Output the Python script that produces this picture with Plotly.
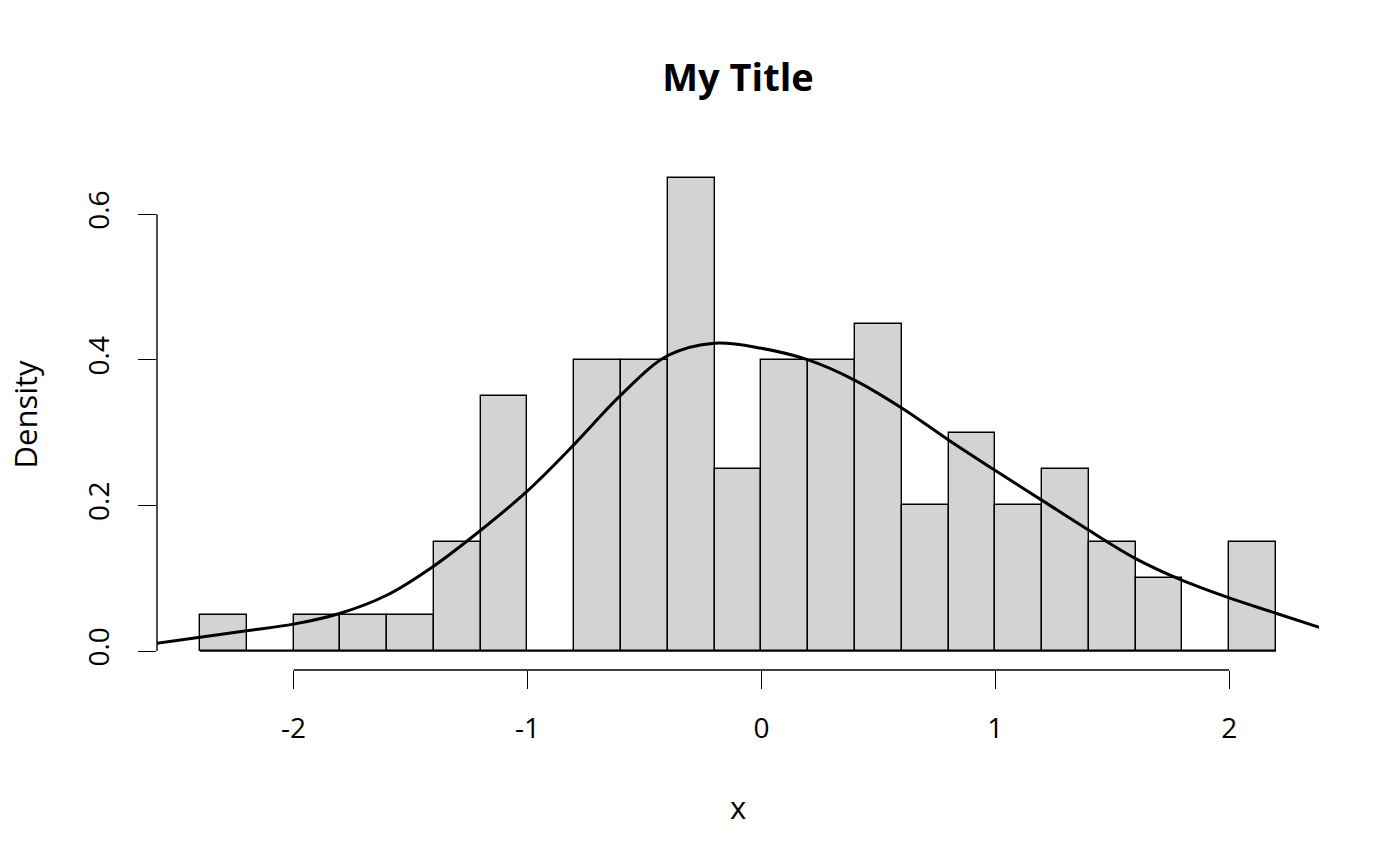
import plotly.graph_objects as go

# histogram: breaks every 0.2 from -2.4 to 2.2, density heights
bin_left = [-2.4, -2.2, -2.0, -1.8, -1.6, -1.4, -1.2, -1.0, -0.8, -0.6, -0.4, -0.2,
            0.0, 0.2, 0.4, 0.6, 0.8, 1.0, 1.2, 1.4, 1.6, 1.8, 2.0]
bin_density = [0.05, 0.0, 0.05, 0.05, 0.05, 0.15, 0.35, 0.0, 0.40, 0.40, 0.65, 0.25,
               0.40, 0.40, 0.45, 0.20, 0.30, 0.20, 0.25, 0.15, 0.10, 0.0, 0.15]
bin_width = 0.2

# kernel density curve
dens_x = [-2.6, -2.4, -2.2, -2.0, -1.8, -1.6, -1.4, -1.2, -1.0, -0.8, -0.6, -0.4,
          -0.2, 0.0, 0.2, 0.4, 0.6, 0.8, 1.0, 1.2, 1.4, 1.6, 1.8, 2.0, 2.2, 2.4]
dens_y = [0.010, 0.019, 0.028, 0.037, 0.052, 0.077, 0.117, 0.166, 0.220, 0.284,
          0.352, 0.406, 0.423, 0.416, 0.400, 0.372, 0.334, 0.290, 0.248, 0.207,
          0.166, 0.127, 0.097, 0.073, 0.052, 0.031]

x_ticks = [-2, -1, 0, 1, 2]
y_ticks = [0.0, 0.2, 0.4, 0.6]
y_ticklabels = ['0.0', '0.2', '0.4', '0.6']

# R style axis limits (4% extension)
xr = [bin_left[0], bin_left[-1] + bin_width]
yr = [0, max(bin_density)]
xpad = (xr[1] - xr[0]) * 0.04
ypad = (yr[1] - yr[0]) * 0.04

FONT = 'Open Sans'
PAGE = 8  # default body margin of the html page

fig = go.Figure()

fig.add_trace(go.Bar(
    x=[b + bin_width / 2 for b in bin_left],
    y=bin_density,
    width=bin_width,
    marker=dict(color='#D3D3D3', line=dict(color='black', width=1.4)),
    hoverinfo='skip',
))

fig.add_trace(go.Scatter(
    x=dens_x, y=dens_y, mode='lines',
    line=dict(color='black', width=3, shape='spline'),
    hoverinfo='skip',
))

# baseline of histogram (zero-height bins show as line)
fig.add_shape(type='line', x0=xr[0], x1=xr[1], y0=0, y1=0,
              xref='x', yref='y', line=dict(color='black', width=1.4))
# axis lines spanning first to last tick
fig.add_shape(type='line', x0=x_ticks[0], x1=x_ticks[-1], y0=0, y1=0,
              xref='x', yref='y domain', line=dict(color='black', width=1.4))
fig.add_shape(type='line', x0=0, x1=0, y0=y_ticks[0], y1=y_ticks[-1],
              xref='x domain', yref='y', line=dict(color='black', width=1.4))

fig.add_annotation(text='x', xref='paper', yref='paper', x=0.5, y=0,
                   yanchor='middle', yshift=-137, showarrow=False,
                   font=dict(family=FONT, size=31, color='black'))
fig.add_annotation(text='Density', xref='paper', yref='paper', x=0, y=0.5,
                   xanchor='center', xshift=-133, textangle=-90, showarrow=False,
                   borderpad=0,
                   font=dict(family=FONT, size=31, color='black'))

fig.update_layout(
    width=1400, height=866,
    margin=dict(l=157 - PAGE, r=81 + PAGE, t=159 - PAGE, b=196 + PAGE),
    plot_bgcolor='white', paper_bgcolor='white',
    showlegend=False, bargap=0,
    title=dict(text='<b>My Title</b>', x=0.5, xref='paper', y=1 - (78 - PAGE) / 866,
               yref='container', yanchor='middle', xanchor='center',
               font=dict(family=FONT, size=38, color='black')),
    font=dict(family=FONT, size=28, color='black'),
)

fig.update_xaxes(
    range=[xr[0] - xpad, xr[1] + xpad],
    tickvals=x_ticks, ticktext=[str(t) for t in x_ticks],
    ticks='outside', ticklen=18, tickwidth=1.4, tickcolor='black',
    showgrid=False, zeroline=False, showline=False,
    ticklabelstandoff=15,
    tickfont=dict(family=FONT, size=28, color='black'),
)
fig.update_yaxes(
    range=[yr[0] - ypad, yr[1] + ypad],
    tickvals=y_ticks, ticktext=y_ticklabels,
    ticks='outside', ticklen=18, tickwidth=1.4, tickcolor='black',
    showgrid=False, zeroline=False, showline=False,
    tickangle=-90, ticklabelstandoff=18,
    tickfont=dict(family=FONT, size=28, color='black'),
)

fig.write_html('out.html')
